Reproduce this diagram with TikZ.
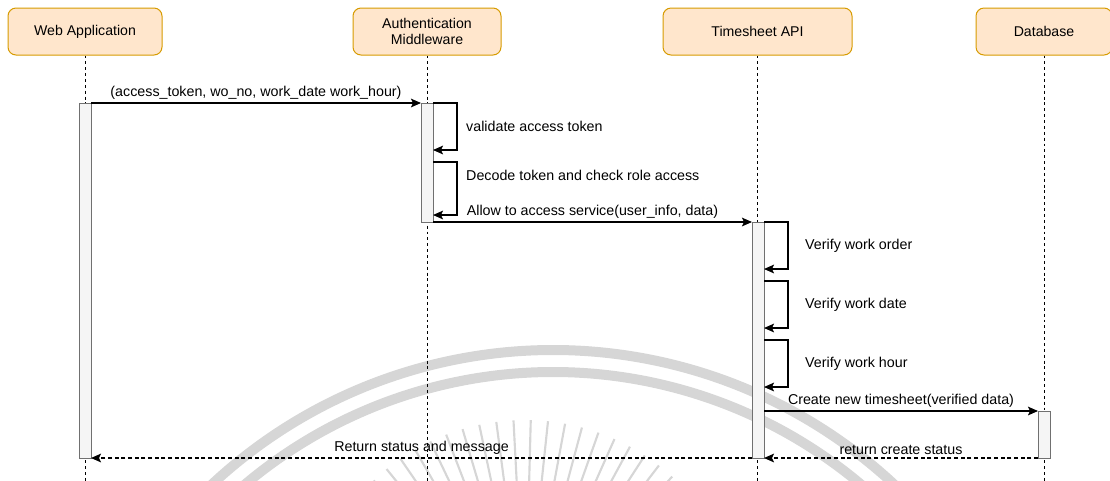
\documentclass[tikz,border=0pt]{standalone}
\usepackage{fontspec}
\setmainfont{Liberation Sans}
\usetikzlibrary{arrows.meta}
\definecolor{BoxFill}{HTML}{FFE6CC}
\definecolor{BoxLine}{HTML}{D79B00}
\definecolor{BarFill}{HTML}{F5F5F5}
\definecolor{BarLine}{HTML}{707070}
\definecolor{SealGray}{RGB}{214,214,214}

\tikzset{
  actor/.style={draw=BoxLine, fill=BoxFill, rounded corners=6pt, line width=0.75pt,
    minimum height=35.25pt, inner sep=0pt, align=center,
    font=\fontsize{10.6}{11.6}\selectfont},
  bar/.style={draw=BarLine, fill=BarFill, line width=0.6pt, minimum width=9pt,
    inner sep=0pt, outer sep=0pt},
  life/.style={line width=0.6pt, dash pattern=on 2.2pt off 2.2pt},
  msg/.style={line width=0.85pt, -{Stealth[length=7.5pt,width=6.5pt,inset=1.5pt]}},
  reply/.style={msg, dash pattern=on 3pt off 2pt},
  lbl/.style={font=\fontsize{10.7}{12.5}\selectfont, inner sep=2pt},
}

\begin{document}
\begin{tikzpicture}[x=0.75pt,y=-0.75pt]
  \useasboundingbox (0,0) rectangle (1110,480);

  % faint seal behind everything
  \begin{scope}
    \clip (0,0) rectangle (1110,480);
    \draw[SealGray,line width=7.5pt] (553,850) ++(224:500) arc[start angle=224, end angle=316, radius=500];
    \draw[SealGray,line width=7.5pt] (553,850) ++(222:478) arc[start angle=222, end angle=318, radius=478];
    \foreach \a in {222,226.5,...,318}
      \draw[SealGray,line width=1.6pt] (525,640) ++(\a:110) -- ++(\a:110);
  \end{scope}

  % participants
  \node[actor, minimum width=115.5pt] (web) at (85,31.5) {Web Application};
  \node[actor, minimum width=111pt] (auth) at (427,31.5) {Authentication\\Middleware};
  \node[actor, minimum width=141.75pt] (api) at (757.5,31.5) {Timesheet API};
  \node[actor, minimum width=102pt] (db) at (1044,31.5) {Database};
  \coordinate (floor) at (0,482);

  % lifelines
  \foreach \p in {web,auth,api,db}
    \draw[life] (\p.south) -- (\p.south |- floor);

  % activations
  \node[bar, minimum height=266.25pt] (webbar) at (85,280.5) {};
  \node[bar, minimum height=89.25pt] (authbar) at (427,162.5) {};
  \node[bar, minimum height=177pt] (apibar) at (758,340) {};
  \node[bar, minimum height=35.25pt] (dbbar) at (1044,434.5) {};

  % calls
  \draw[msg] (webbar.north east) -- node[lbl,above] {(access\_token, wo\_no, work\_date work\_hour)} (authbar.north west);
  \draw[msg] (authbar.north east) -- ++(24,0) -- node[lbl,right=4.5pt] {validate access token} ++(0,47) -- ++(-24,0);
  \draw[msg] (authbar.north east) ++(0,59) -- ++(24,0) -- node[lbl,right=4.5pt,pos=0.25] {Decode token and check role access} ++(0,53) -- ++(-24,0);
  \draw[msg] (authbar.south east) -- node[lbl,above] {Allow to access service(user\_info, data)} (apibar.north west);
  \draw[msg] (apibar.north east) -- ++(24,0) -- node[lbl,right=10.5pt] {Verify work order} ++(0,47) -- ++(-24,0);
  \draw[msg] (apibar.north east) ++(0,59) -- ++(24,0) -- node[lbl,right=10.5pt] {Verify work date} ++(0,47) -- ++(-24,0);
  \draw[msg] (apibar.north east) ++(0,118) -- ++(24,0) -- node[lbl,right=10.5pt] {Verify work hour} ++(0,47) -- ++(-24,0);
  \draw[msg] (apibar.east |- dbbar.north) -- node[lbl,above] {Create new timesheet(verified data)} (dbbar.north west);

  % replies
  \draw[reply] (dbbar.south west) -- node[lbl,above] {return create status} (apibar.south east);
  \draw[reply] (apibar.south west) -- node[lbl,above] {Return status and message} (webbar.south east);
\end{tikzpicture}
\end{document}
